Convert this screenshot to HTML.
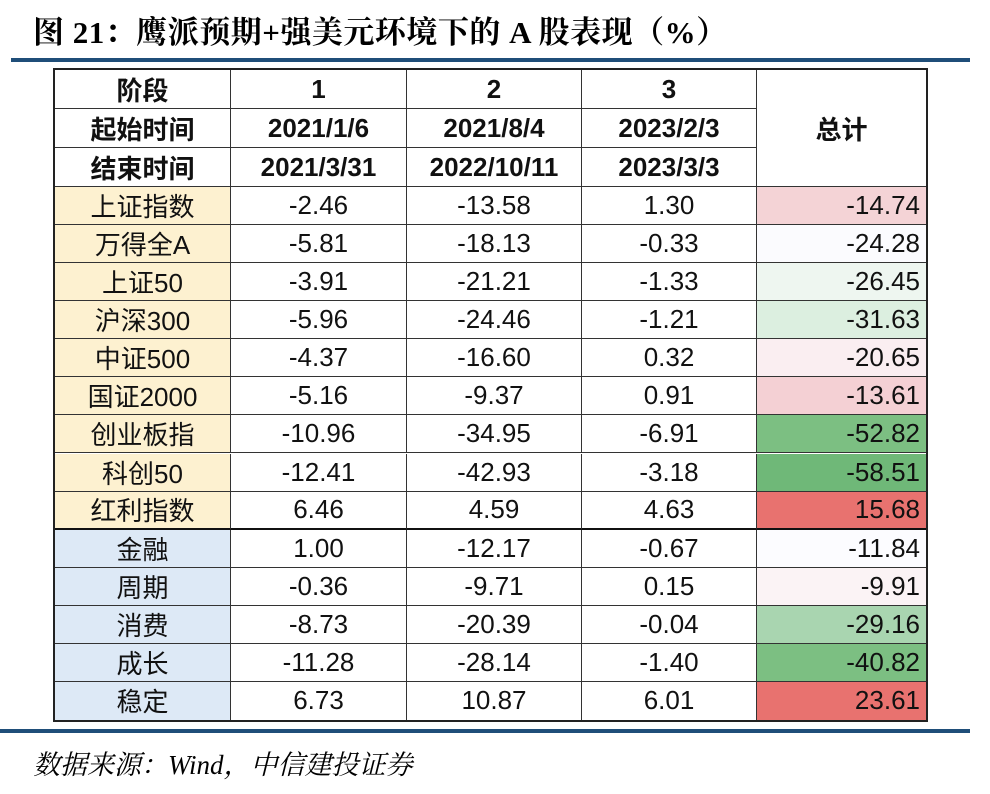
<!DOCTYPE html>
<html><head><meta charset="utf-8">
<style>
body{margin:0;width:990px;height:794px;background:#fff;position:relative;overflow:hidden;font-family:"Liberation Sans","Noto Sans CJK SC",sans-serif;}
.t{position:absolute;left:33px;top:7px;font-size:31px;font-weight:bold;font-family:"Liberation Serif","Noto Serif CJK SC","Noto Sans CJK SC",serif;color:#000;white-space:nowrap;letter-spacing:0.5px;}
.bar{position:absolute;height:4px;background:#1f4e79;}
.c{position:absolute;box-sizing:border-box;display:flex;align-items:center;justify-content:center;font-size:26px;color:#111;border-right:1.5px solid #333;border-bottom:1.5px solid #333;}
.src{position:absolute;left:33px;top:743px;font-size:27px;font-style:italic;font-family:"Liberation Serif","Noto Serif CJK SC",serif;white-space:nowrap;}
</style></head><body>
<div class="t">图 21：鹰派预期+强美元环境下的 A 股表现（%）</div>
<div class="bar" style="left:11px;top:58px;width:959px"></div>
<div id="tbl" style="position:absolute;left:53px;top:68px;width:875px;height:654px;border:2px solid #222;box-sizing:border-box;"></div>
<div class="bar" style="left:0;top:729px;width:970px"></div>
<div class="src">数据来源：Wind，中信建投证券</div>
<script>
const labels=["上证指数","万得全A","上证50","沪深300","中证500","国证2000","创业板指","科创50","红利指数","金融","周期","消费","成长","稳定"];
const s1=["-2.46","-5.81","-3.91","-5.96","-4.37","-5.16","-10.96","-12.41","6.46","1.00","-0.36","-8.73","-11.28","6.73"];
const s2=["-13.58","-18.13","-21.21","-24.46","-16.60","-9.37","-34.95","-42.93","4.59","-12.17","-9.71","-20.39","-28.14","10.87"];
const s3=["1.30","-0.33","-1.33","-1.21","0.32","0.91","-6.91","-3.18","4.63","-0.67","0.15","-0.04","-1.40","6.01"];
const totals=["-14.74","-24.28","-26.45","-31.63","-20.65","-13.61","-52.82","-58.51","15.68","-11.84","-9.91","-29.16","-40.82","23.61"];
const heat=["#f4d3d6","#fbfbfe","#eef6f0","#dcefe0","#faeef1","#f4d0d4","#7cbf82","#6fb878","#e8726f","#fcfcff","#fbf3f5","#a9d5b0","#7cbf82","#e8726f"];
const tbl=document.getElementById('tbl');
const X=[0,176,352,527,702,871];
const hh=39, rh=(650-3*hh)/14;
function cell(x,y,w,h,txt,st,name){const d=document.createElement('div');d.className='c';
d.style.left=x+'px';d.style.top=y+'px';d.style.width=w+'px';d.style.height=h+'px';
Object.assign(d.style,st||{});d.textContent=txt;


tbl.appendChild(d);}
const hdr=[["阶段","1","2","3"],["起始时间","2021/1/6","2021/8/4","2023/2/3"],["结束时间","2021/3/31","2022/10/11","2023/3/3"]];
hdr.forEach((r,i)=>r.forEach((t,j)=>cell(X[j],i*hh,X[j+1]-X[j],hh,t,{fontWeight:'bold'},'header-cell')));
cell(X[4],0,X[5]-X[4],hh*3,"总计",{fontWeight:'bold',borderRight:'none'},'total-header');
labels.forEach((l,i)=>{const y=3*hh+i*rh;const bb=(i==8)?{borderBottom:'2.5px solid #111'}:(i==13?{borderBottom:'none'}:{});
cell(X[0],y,X[1]-X[0],rh,l,Object.assign({background:i<9?'#fdf1d0':'#dde9f6'},bb),'row-label');
[s1,s2,s3].forEach((s,j)=>cell(X[j+1],y,X[j+2]-X[j+1],rh,s[i],bb,'stage-'+(j+1)+'-value'));
cell(X[4],y,X[5]-X[4],rh,totals[i],Object.assign({background:heat[i],justifyContent:'flex-end',paddingRight:'6px',borderRight:'none'},bb),'total-value');});
</script>
</body></html>
